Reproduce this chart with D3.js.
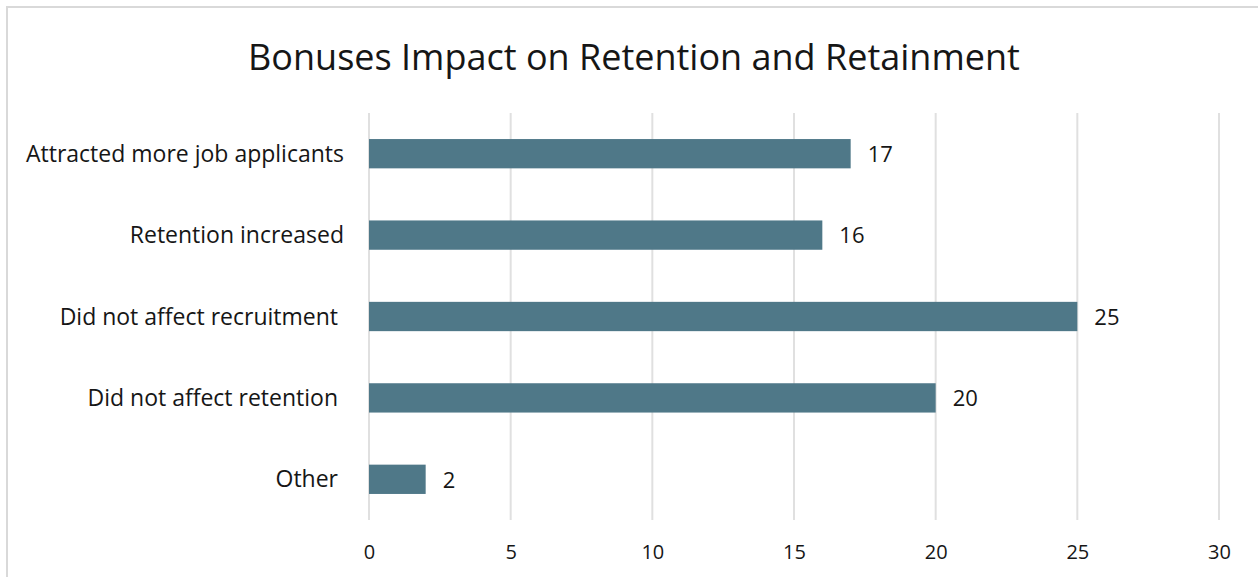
<!DOCTYPE html>
<html lang="en">
<head>
    <meta charset="UTF-8">
    <title>Bonuses Impact on Retention and Retainment</title>
    <script src="https://d3js.org/d3.v7.min.js"></script>
    <style>
        body { margin: 0; background: #fff; }
        text { font-family: "Open Sans", sans-serif; fill: #161616; white-space: pre; }
        .grid line { stroke: #e0e0e0; stroke-width: 2px; }
        .title { font-size: 36px; }
        .value { font-size: 22px; }
    </style>
</head>
<body>
    <div id="chart"></div>
    <script>
        // chart data
        const categories = ["Attracted more job applicants", "Retention increased", "Did not affect recruitment ", "Did not affect retention ", "Other "];
        const values = [17, 16, 25, 20, 2];
        const xTicks = [0, 5, 10, 15, 20, 25, 30];

        const width = 1258, height = 577;
        const svg = d3.select("#chart")
                        .append("svg")
                        .attr("width", width)
                        .attr("height", height);

        // outer chart border
        svg.append("rect")
            .attr("x", 7)
            .attr("y", 7)
            .attr("width", 1262)
            .attr("height", 590)
            .attr("fill", "none")
            .attr("stroke", "#d9d9d9")
            .attr("stroke-width", 2);

        const xScale = d3.scaleLinear()
                            .domain([0, 30])
                            .range([369, 1219]);

        const yScale = d3.scaleBand()
                            .domain(categories)
                            .range([113, 520])
                            .paddingInner(0.64)
                            .paddingOuter(0.32);

        // vertical gridlines
        svg.append("g")
            .attr("class", "grid")
            .selectAll("line")
            .data(xTicks)
            .enter()
            .append("line")
            .attr("x1", d => xScale(d))
            .attr("x2", d => xScale(d))
            .attr("y1", 113)
            .attr("y2", 520);

        // x axis tick labels
        const xAxis = svg.append("g")
            .attr("transform", "translate(0, 520)")
            .call(d3.axisBottom(xScale).tickValues(xTicks).tickSize(0).tickPadding(0));
        xAxis.select(".domain").remove();
        xAxis.selectAll("text")
            .attr("y", 39)
            .attr("dy", null)
            .style("font-family", "'Open Sans', sans-serif")
            .style("font-size", "20px")
            .attr("fill", "#161616");

        // y axis category labels
        const yAxis = svg.append("g")
            .attr("transform", "translate(344, 0)")
            .call(d3.axisLeft(yScale).tickSize(0).tickPadding(0));
        yAxis.select(".domain").remove();
        yAxis.selectAll("text")
            .attr("dy", "0.35em")
            .style("font-family", "'Open Sans', sans-serif")
            .style("font-size", "23px")
            .style("white-space", "pre")
            .attr("fill", "#161616");

        // bars
        svg.selectAll("rect.bar")
            .data(values)
            .enter()
            .append("rect")
            .attr("class", "bar")
            .attr("x", xScale(0))
            .attr("y", (d, i) => yScale(categories[i]))
            .attr("width", d => xScale(d) - xScale(0))
            .attr("height", yScale.bandwidth())
            .attr("fill", "#4f7888");

        // value labels
        svg.selectAll("text.value")
            .data(values)
            .enter()
            .append("text")
            .attr("class", "value")
            .attr("x", d => xScale(d) + 17)
            .attr("y", (d, i) => yScale(categories[i]) + yScale.bandwidth() / 2)
            .attr("dy", "0.38em")
            .text(d => d);

        // title
        svg.append("text")
            .attr("class", "title")
            .attr("x", 634)
            .attr("y", 70)
            .attr("text-anchor", "middle")
            .text("Bonuses Impact on Retention and Retainment");
    </script>
</body>
</html>
